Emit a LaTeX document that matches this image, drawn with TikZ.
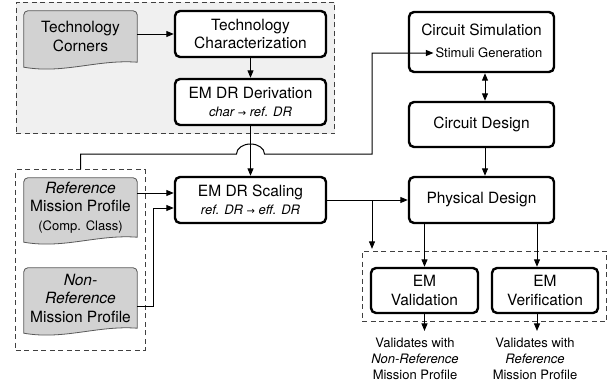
\documentclass[tikz,border=0pt]{standalone}
\usepackage{fontspec}
\setmainfont{TeX Gyre Heros}
\newfontfamily\arrowfont{DejaVu Sans}
\usetikzlibrary{arrows.meta,calc,fit,backgrounds}

\newcommand{\bodysize}{\fontsize{15.5}{18.5}\selectfont}
\newcommand{\notesize}{\fontsize{13}{16}\selectfont}
\newcommand{\rarr}{{\arrowfont\fontsize{10}{10}\selectfont →}}

\begin{document}
\begin{tikzpicture}[
    x=1pt, y=-1pt,
    >={Triangle[length=7.5pt,width=6pt]},
    every node/.style={font=\bodysize, align=center, inner sep=2pt},
    stepbox/.style={draw, line width=2.4pt, rounded corners=5pt, fill=white},
    docpaper/.style={draw=black!65, line width=0.8pt, fill=gray!35},
    group/.style={draw=black!75, line width=0.9pt, dash pattern=on 5pt off 3.5pt},
    conn/.style={line width=1pt, ->},
    note/.style={font=\notesize}
]
\useasboundingbox (0,0) rectangle (612,388);

% input documents
\node[minimum width=113pt, minimum height=51pt] (corners) at (80.5,36.5) {Technology\\Corners};
\node[minimum width=113pt, minimum height=59pt] (refmp) at (80.5,207.5)
    {\textit{Reference}\\Mission Profile\\{\notesize(Comp. Class)}};
\node[minimum width=113pt, minimum height=60pt] (nonrefmp) at (80.5,298)
    {\textit{Non-}\\\textit{Reference}\\Mission Profile};

% design rule flow
\node[stepbox, minimum width=151pt, minimum height=46pt] (techchar) at (250.5,34) {Technology\\Characterization};
\node[stepbox, minimum width=151pt, minimum height=46pt] (emderiv) at (250.5,102)
    {EM DR Derivation\\{\notesize\itshape char \rarr\ ref. DR}};
\node[stepbox, minimum width=151pt, minimum height=46pt] (emscale) at (250.5,200)
    {EM DR Scaling\\{\notesize\itshape ref. DR \rarr\ eff. DR}};

% circuit flow
\node[stepbox, minimum width=145pt, minimum height=60pt] (circsim) at (481.5,42) {};
\node (simtitle) at (481.5,30) {Circuit Simulation};
\node[note] (stimuli) at (489,53) {Stimuli Generation};
\node[stepbox, minimum width=145pt, minimum height=45pt] (circdes) at (481.5,124.5) {Circuit Design};
\node[stepbox, minimum width=145pt, minimum height=46pt] (phys) at (481.5,200) {Physical Design};
\node[stepbox, minimum width=107pt, minimum height=45pt] (emval) at (424.5,290.5) {EM\\Validation};
\node[stepbox, minimum width=106pt, minimum height=45pt] (emver) at (545,290.5) {EM\\Verification};

\node[note] (vallabel) at (415,359) {Validates with\\\textit{Non-Reference}\\Mission Profile};
\node[note] (verlabel) at (535,359) {Validates with\\\textit{Reference}\\Mission Profile};

% groups and paper shapes
\coordinate (mpfoot) at ($(nonrefmp.south)+(0,14)$);
\coordinate (emhead) at ($(emval.north)+(0,-8)$);
\begin{scope}[on background layer]
\node[group, fill=gray!12, fit=(corners)(techchar)(emderiv), inner sep=7.5pt] (techgroup) {};
\node[group, fit=(refmp)(nonrefmp)(mpfoot), inner sep=8pt] (mpgroup) {};
\node[group, fit=(emval)(emver)(emhead), inner sep=7.5pt] (emgroup) {};
\foreach \n in {corners,refmp,nonrefmp}
    \path[docpaper] ($(\n.south west)+(0,5)$) [rounded corners=4pt] -- (\n.north west)
        -- (\n.north east) [sharp corners] -- (\n.south east)
        .. controls ($(\n.south east)+(-40,-3)$) and ($(\n.south west)+(40,12)$)
        .. ($(\n.south west)+(0,5)$) -- cycle;
\end{scope}

% connectors
\draw[conn] (corners.east |- techchar.west) -- (techchar.west);
\draw[conn] (techchar) -- (emderiv);
\draw[conn] (emderiv) -- (emscale);

\coordinate (hop) at (emderiv.south |- 0,154);
\coordinate (turn) at (372,154);
\draw[conn] (mpgroup.north) |- ([xshift=-14pt]hop)
    arc[start angle=180, end angle=0, x radius=14pt, y radius=10pt]
    -- (turn) |- (stimuli.west);

\coordinate (refin) at ([yshift=7pt]emscale.west);
\coordinate (nonrefin) at ([yshift=-8pt]emscale.west);
\draw[conn] (refmp.east |- refin) -- (refin);
\draw[conn] ([yshift=-8pt]nonrefmp.east) -- ++(16pt,0) |- (nonrefin);

\draw[conn] (emscale) -- (phys);
\coordinate (split) at (turn |- emscale.east);
\draw[conn, shorten >=2pt] (split) -- (split |- emgroup.north);

\draw[conn, <->] ([xshift=3.5pt]circsim.south) -- ([xshift=3.5pt]circdes.north);
\draw[conn] ([xshift=3.5pt]circdes.south) -- ([xshift=3.5pt]phys.north);

\coordinate (vertap) at ([xshift=-8pt]emver.north);
\draw[conn] (phys.south -| emval.north) -- (emval.north);
\draw[conn] (phys.south -| vertap) -- (vertap);
\draw[conn, shorten >=5pt] (emval.south) -- (emval.south |- vallabel.north);
\draw[conn, shorten >=5pt] (emver.south -| vertap) -- (vertap |- verlabel.north);

\end{tikzpicture}
\end{document}
